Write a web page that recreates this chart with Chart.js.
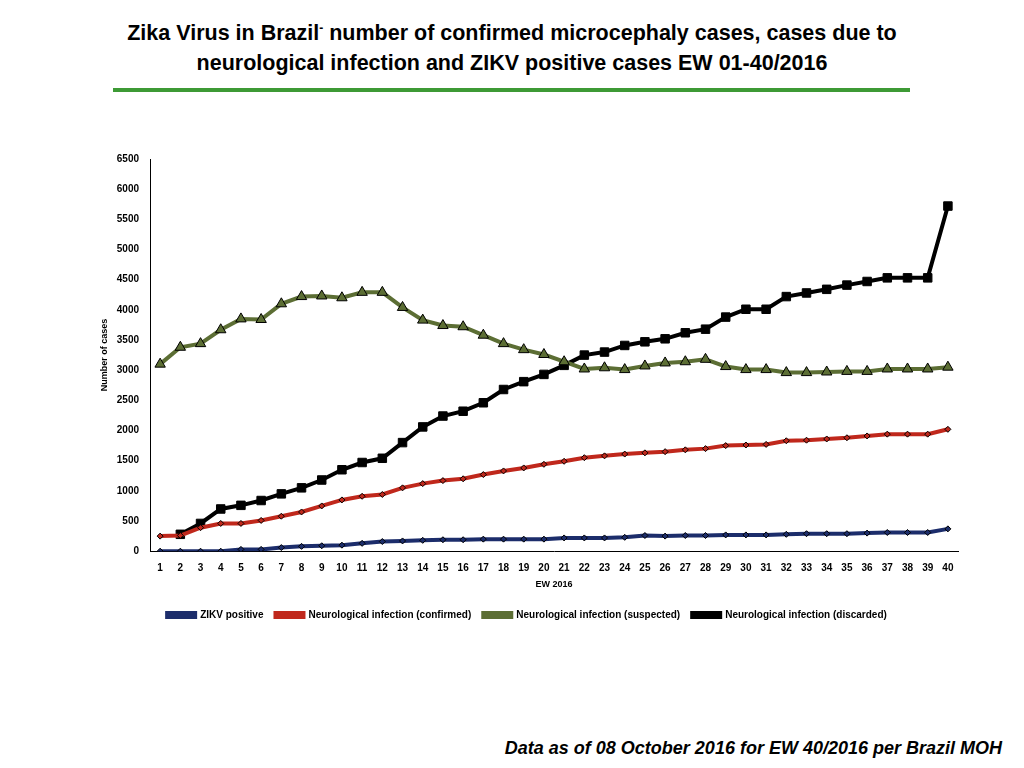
<!DOCTYPE html>
<html><head><meta charset="utf-8">
<script src="https://cdn.jsdelivr.net/npm/chart.js@4"></script>
<style>
body{margin:0;width:1024px;height:768px;background:#fff;font-family:"Liberation Sans",Arial,sans-serif;position:relative;overflow:hidden}
#t{position:absolute;top:13px;left:0;width:1024px;text-align:center;font-weight:bold;font-size:21.5px;line-height:30px;color:#000}
#hr{position:absolute;top:88px;left:113px;width:797px;height:4px;background:#3d9a35}
#f{position:absolute;top:738px;right:22px;font-weight:bold;font-style:italic;font-size:18px}
#w{position:absolute;left:95px;top:150px;width:870px;height:480px}
</style></head><body>
<div id="t">Zika Virus in Brazil<sup style="font-size:12px">-</sup>  number of  confirmed microcephaly cases, cases due to<br>neurological infection and ZIKV positive cases EW 01-40/2016</div>
<div id="hr"></div>
<div id="w"><canvas id="c"></canvas></div>
<div id="f">Data as of 08 October 2016 for EW 40/2016 per Brazil MOH</div>
<script>
const weeks=Array.from({length:40},(_,i)=>String(i+1));
const zikv=[0,0,0,0,30,30,60,80,90,100,130,160,170,180,190,190,200,200,200,200,220,220,220,230,260,250,260,260,270,270,270,280,290,290,290,300,310,310,310,370];
const confirmed=[250,260,390,460,460,510,580,650,750,850,910,940,1050,1120,1170,1200,1270,1330,1380,1440,1490,1550,1580,1610,1630,1650,1680,1700,1750,1760,1770,1830,1840,1860,1880,1910,1940,1940,1940,2020];
const suspected=[3100,3380,3440,3670,3850,3840,4100,4220,4230,4200,4290,4290,4040,3830,3740,3720,3580,3440,3340,3260,3140,3020,3040,3010,3070,3120,3140,3180,3060,3010,3010,2960,2960,2970,2980,2980,3020,3020,3020,3050];
const discarded=[null,280,460,700,760,840,950,1050,1180,1350,1470,1540,1800,2060,2240,2320,2460,2680,2810,2930,3080,3250,3300,3410,3470,3520,3620,3680,3880,4010,4010,4220,4280,4340,4410,4470,4530,4530,4530,5720];
const ds=(label,data,color,pt,r,fill)=>({label,data,borderColor:color,backgroundColor:fill,pointStyle:pt,pointRadius:r,pointBorderColor:'#000',pointBorderWidth:1,borderWidth:4,tension:0});
new Chart(document.getElementById('c'),{type:'line',
data:{labels:weeks,datasets:[
ds('ZIKV positive',zikv,'#1c2d6b','rectRot',3,'#1c2d6b'),
ds('Neurological infection (confirmed)',confirmed,'#c0281c','rectRot',3,'#c0281c'),
ds('Neurological infection (suspected)',suspected,'#5c6e34','triangle',6,'#5c6e34'),
ds('Neurological infection (discarded)',discarded,'#000','rect',6,'#000')]},
options:{responsive:true,maintainAspectRatio:false,animation:false,
layout:{padding:{right:6}},
plugins:{legend:{position:'bottom',labels:{usePointStyle:false,boxWidth:28,boxHeight:4,font:{size:10,weight:'bold'},color:'#000',padding:12}},tooltip:{enabled:false}},
scales:{x:{offset:true,grid:{display:false},border:{color:'#000'},ticks:{color:'#000',font:{size:10,weight:'bold'},maxRotation:0,autoSkip:false},title:{display:true,text:'EW 2016',color:'#000',font:{size:9,weight:'bold'},padding:{top:2,bottom:8}}},
y:{min:0,max:6500,grid:{display:false},border:{color:'#000'},ticks:{stepSize:500,color:'#000',font:{size:10,weight:'bold'},callback:v=>String(v)},title:{display:true,text:'Number of cases',color:'#000',font:{size:9,weight:'bold'}}}}}});
</script></body></html>
